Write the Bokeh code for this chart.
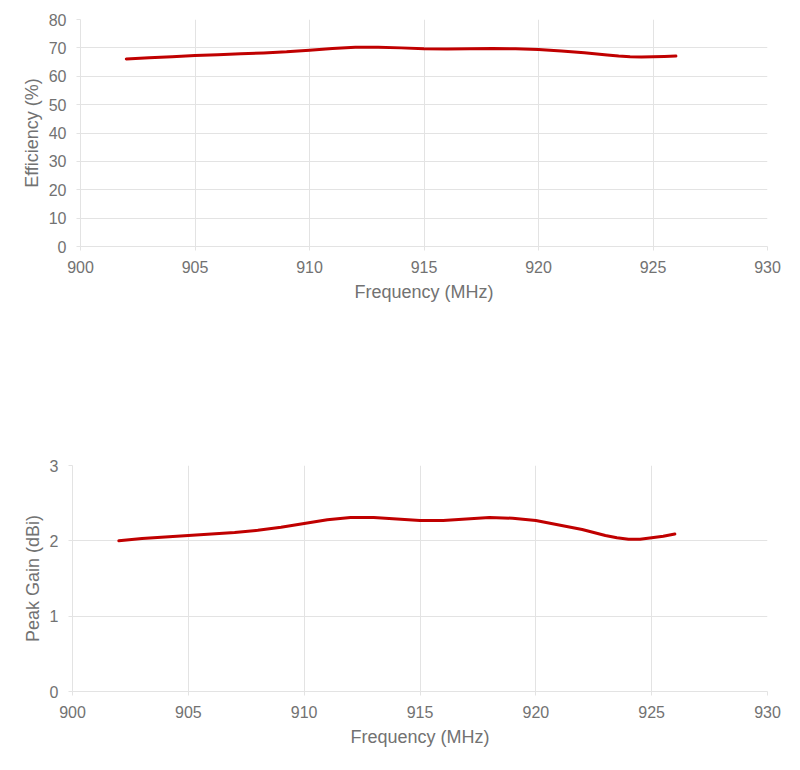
from bokeh.plotting import figure
from bokeh.models import Range1d, FixedTicker
from bokeh.embed import file_html
from bokeh.resources import INLINE

# Values
freq_mhz = [902, 903, 904, 905, 906, 907, 908, 909, 910, 911, 912, 913, 914,
            915, 916, 917, 918, 919, 920, 921, 922, 923, 923.5, 924, 924.5, 925, 925.5, 926]
efficiency = [66.1, 66.5, 66.9, 67.3, 67.6, 67.9, 68.2, 68.6, 69.2, 69.8, 70.2, 70.2, 70.0,
              69.7, 69.6, 69.7, 69.8, 69.7, 69.4, 68.9, 68.3, 67.5, 67.1, 66.9, 66.8, 66.9, 67.0, 67.1]
peak_gain = [2.00, 2.03, 2.05, 2.07, 2.09, 2.11, 2.14, 2.18, 2.23, 2.28, 2.31, 2.31, 2.29,
             2.27, 2.27, 2.29, 2.31, 2.30, 2.27, 2.21, 2.15, 2.07, 2.04, 2.02, 2.02, 2.04, 2.06, 2.09]

x_ticks = [900, 905, 910, 915, 920, 925, 930]
eff_ticks = [0, 10, 20, 30, 40, 50, 60, 70, 80]
gain_ticks = [0, 1, 2, 3]

FONT = "Liberation Sans"
TEXT_GREY = "#727272"
GRID_GREY = "#e3e3e3"
LINE_RED = "#c00000"


def style_chart(chart, y_ticks, y_title):
    chart.outline_line_color = None
    chart.xaxis.ticker = FixedTicker(ticks=x_ticks)
    chart.yaxis.ticker = FixedTicker(ticks=y_ticks)
    chart.xaxis.axis_label = "Frequency (MHz)"
    chart.yaxis.axis_label = y_title
    for ax in chart.xaxis + chart.yaxis:
        ax.axis_line_color = GRID_GREY
        ax.major_tick_line_color = GRID_GREY
        ax.major_tick_in = 0
        ax.major_tick_out = 4
        ax.minor_tick_line_color = None
        ax.major_label_text_font = FONT
        ax.major_label_text_font_size = "16px"
        ax.major_label_text_color = TEXT_GREY
        ax.axis_label_text_font = FONT
        ax.axis_label_text_font_size = "18px"
        ax.axis_label_text_font_style = "normal"
        ax.axis_label_text_color = TEXT_GREY
    chart.xaxis.major_label_standoff = 10
    chart.yaxis.major_label_standoff = 10
    chart.xaxis.axis_label_standoff = 6
    chart.yaxis.axis_label_standoff = 4
    chart.xgrid.grid_line_color = GRID_GREY
    chart.ygrid.grid_line_color = GRID_GREY
    return chart


eff_chart = figure(width=792, height=308, output_backend="svg", toolbar_location=None,
                   x_range=Range1d(900, 930), y_range=Range1d(0, 80),
                   min_border_left=80, min_border_right=25, min_border_top=19, min_border_bottom=62)
eff_chart = style_chart(eff_chart, eff_ticks, "Efficiency (%)")
eff_chart.line(freq_mhz, efficiency, line_color=LINE_RED, line_width=3, line_join="round", line_cap="round")

gain_chart = figure(width=792, height=447, output_backend="svg", toolbar_location=None,
                    x_range=Range1d(900, 930), y_range=Range1d(0, 3),
                    min_border_left=72, min_border_right=25, min_border_top=157, min_border_bottom=64)
gain_chart = style_chart(gain_chart, gain_ticks, "Peak Gain (dBi)")
gain_chart.line(freq_mhz, peak_gain, line_color=LINE_RED, line_width=3, line_join="round", line_cap="round")

# two separate roots so the frames are not aligned to each other
open("out.html", "w").write(file_html([eff_chart, gain_chart], INLINE))
